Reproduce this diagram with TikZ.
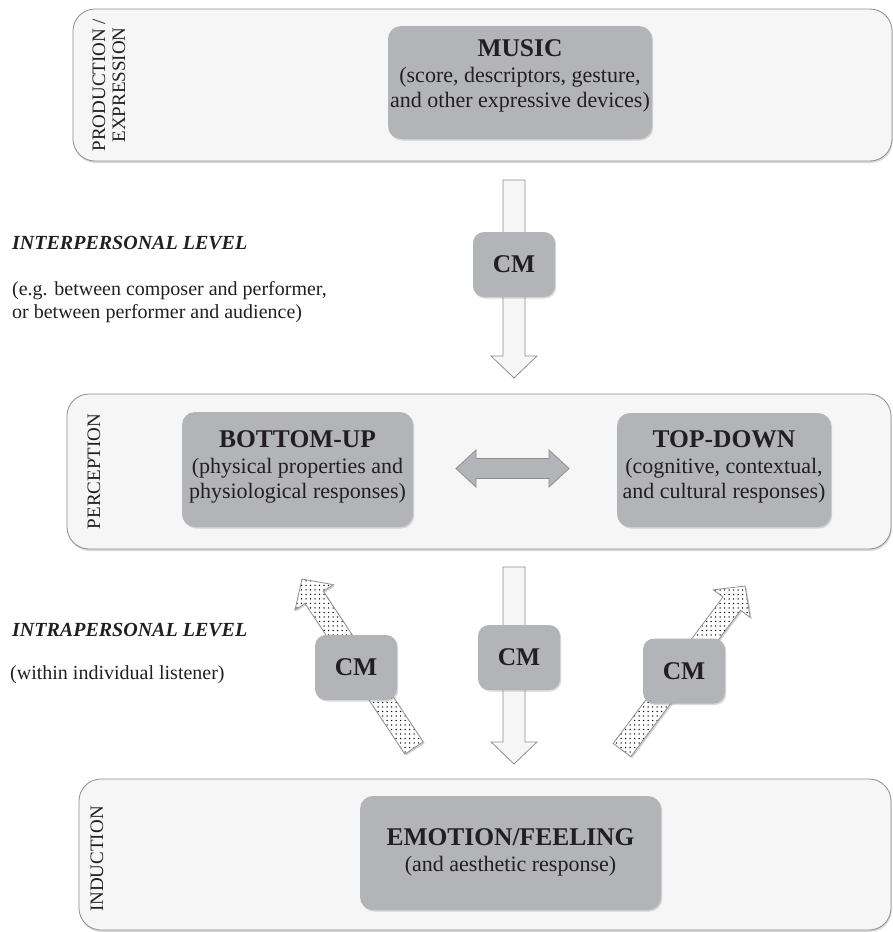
\documentclass[tikz,border=0pt]{standalone}
\usepackage{fontspec}
\setmainfont{Liberation Serif}
\usepackage{xcolor}
\usepackage{tikz}
\usetikzlibrary{positioning,calc,shadows,patterns.meta}

\definecolor{stagefill}{HTML}{F6F6F6}
\definecolor{stageline}{HTML}{8E8E8E}
\definecolor{boxgray}{HTML}{B2B4B7}
\definecolor{ink}{HTML}{231F20}

\newcommand{\titlefont}{\fontsize{25.5bp}{28bp}\selectfont\bfseries}
\newcommand{\blockarrow}[3][]{%
  \draw[blockarr,#1] let \p1=($(#3)-(#2)$), \n1={atan2(\y1,\x1)}, \n2={veclen(\x1,\y1)} in
    [shift={(#2)}, rotate=\n1]
    (0bp,-11bp) -- ({\n2*1pt-22bp},-11bp) -- ({\n2*1pt-22bp},-23bp) -- ({\n2*1pt},0bp)
    -- ({\n2*1pt-22bp},23bp) -- ({\n2*1pt-22bp},11bp) -- (0bp,11bp) -- cycle;}

\begin{document}
\begin{tikzpicture}[x=1bp, y=-1bp,
  stage/.style={draw=stageline, fill=stagefill, line width=.8bp, rounded corners=22bp, drop shadow={shadow xshift=.8bp, shadow yshift=-2bp, opacity=.3}},
  stagelabel/.style={rotate=90, align=center, inner sep=0, text=ink, font=\fontsize{19bp}{20bp}\selectfont},
  greybox/.style={fill=boxgray, rounded corners=13bp, drop shadow={shadow xshift=1.2bp, shadow yshift=-1.5bp, opacity=.3}},
  boxtext/.style={align=center, inner sep=0, text=ink, font=\fontsize{22bp}{25bp}\selectfont},
  cmbox/.style={greybox, minimum width=82bp, minimum height=65bp, rounded corners=11bp, text=ink, font=\titlefont},
  sidehead/.style={anchor=west, inner sep=0, text=ink, font=\fontsize{20bp}{23bp}\selectfont\bfseries\itshape},
  sidetext/.style={anchor=west, align=left, inner sep=0, text=ink, font=\fontsize{20bp}{23bp}\selectfont},
  blockarr/.style={draw=stageline, fill=stagefill, line width=.8bp, line join=miter},
  dotarr/.style={drop shadow={shadow xshift=1.5bp, shadow yshift=-1.5bp, opacity=.35}, preaction={fill=white}, pattern={Dots[distance=4.5bp, radius=.75bp]}, pattern color=black},
  twinarr/.style={draw=stageline, fill=boxgray, line width=.8bp, line join=miter}]
  \useasboundingbox (0,0) rectangle (893,932);

  \node[stage, minimum width=819bp, minimum height=152bp] (prod) at (482.5,85) {};
  \node[stage, minimum width=824bp, minimum height=155bp] (perc) at (479,471.5) {};
  \node[stage, minimum width=812bp, minimum height=151bp] (ind) at (485,854.5) {};

  \node[stagelabel] (prodlab) at (109,85) {PRODUCTION /\\EXPRESSION};
  \node[stagelabel] (perclab) at (94,471.5) {PERCEPTION};
  \node[stagelabel] (indlab) at (97,859) {INDUCTION};

  \node[greybox, minimum width=264bp, minimum height=113bp] (music) at (520,82.5) {};
  \node[boxtext, below=13.5bp of music.north] (musictxt) {{\titlefont MUSIC}\\[1bp](score, descriptors, gesture,\\and other expressive devices)};
  \node[greybox, minimum width=231bp, minimum height=115bp] (bottomup) at (297.5,469.5) {};
  \node[boxtext, below=18.5bp of bottomup.north] (bottomuptxt) {{\titlefont BOTTOM-UP}\\[1bp](physical properties and\\physiological responses)};
  \node[greybox, minimum width=214bp, minimum height=114bp] (topdown) at (724,470) {};
  \node[boxtext, below=17.5bp of topdown.north] (topdowntxt) {{\titlefont TOP-DOWN}\\[1bp](cognitive, contextual,\\and cultural responses)};
  \node[greybox, minimum width=301bp, minimum height=114bp] (emotion) at (510.5,853) {};
  \node[boxtext, below=32.5bp of emotion.north] (emotiontxt) {{\titlefont EMOTION/FEELING}\\[1bp](and aesthetic response)};

  \node[sidehead] (interhead) at (12,243) {INTERPERSONAL LEVEL};
  \node[sidetext] (internote) at (12,302) {(e.g. between composer and performer,\\or between performer and audience)};
  \node[sidehead] (intrahead) at (12,630) {INTRAPERSONAL LEVEL};
  \node[sidetext] (intranote) at (10,675) {(within individual listener)};

  \coordinate (twinL) at (456,468.5);
  \coordinate (twinR) at (569,468.5);
  \draw[twinarr] let \p1=(twinL), \p2=(twinR) in
    (\x1,\y1) -- (\x1+20bp,\y1+18.5bp) -- (\x1+20bp,\y1+10bp) -- (\x2-20bp,\y2+10bp) -- (\x2-20bp,\y2+18.5bp)
    -- (\x2,\y2) -- (\x2-20bp,\y2-18.5bp) -- (\x2-20bp,\y2-10bp) -- (\x1+20bp,\y1-10bp) -- (\x1+20bp,\y1-18.5bp) -- cycle;

  \coordinate (downAtop) at (514,180);
  \coordinate (downAtip) at (514,378);
  \coordinate (downBtop) at (514,567);
  \coordinate (downBtip) at (514,764);
  \coordinate (upLtail) at (414,748);
  \coordinate (upLtip) at (302,579);
  \coordinate (upRtail) at (622,750);
  \coordinate (upRtip) at (745,586);
  \blockarrow{downAtop}{downAtip}
  \blockarrow{downBtop}{downBtip}
  \blockarrow[dotarr]{upLtail}{upLtip}
  \blockarrow[dotarr]{upRtail}{upRtip}

  \node[cmbox] (cmtop) at (514,264.5) {CM};
  \node[cmbox] (cmleft) at (356,667.5) {CM};
  \node[cmbox] (cmmid) at (519,657.5) {CM};
  \node[cmbox] (cmright) at (684,671) {CM};
\end{tikzpicture}
\end{document}
